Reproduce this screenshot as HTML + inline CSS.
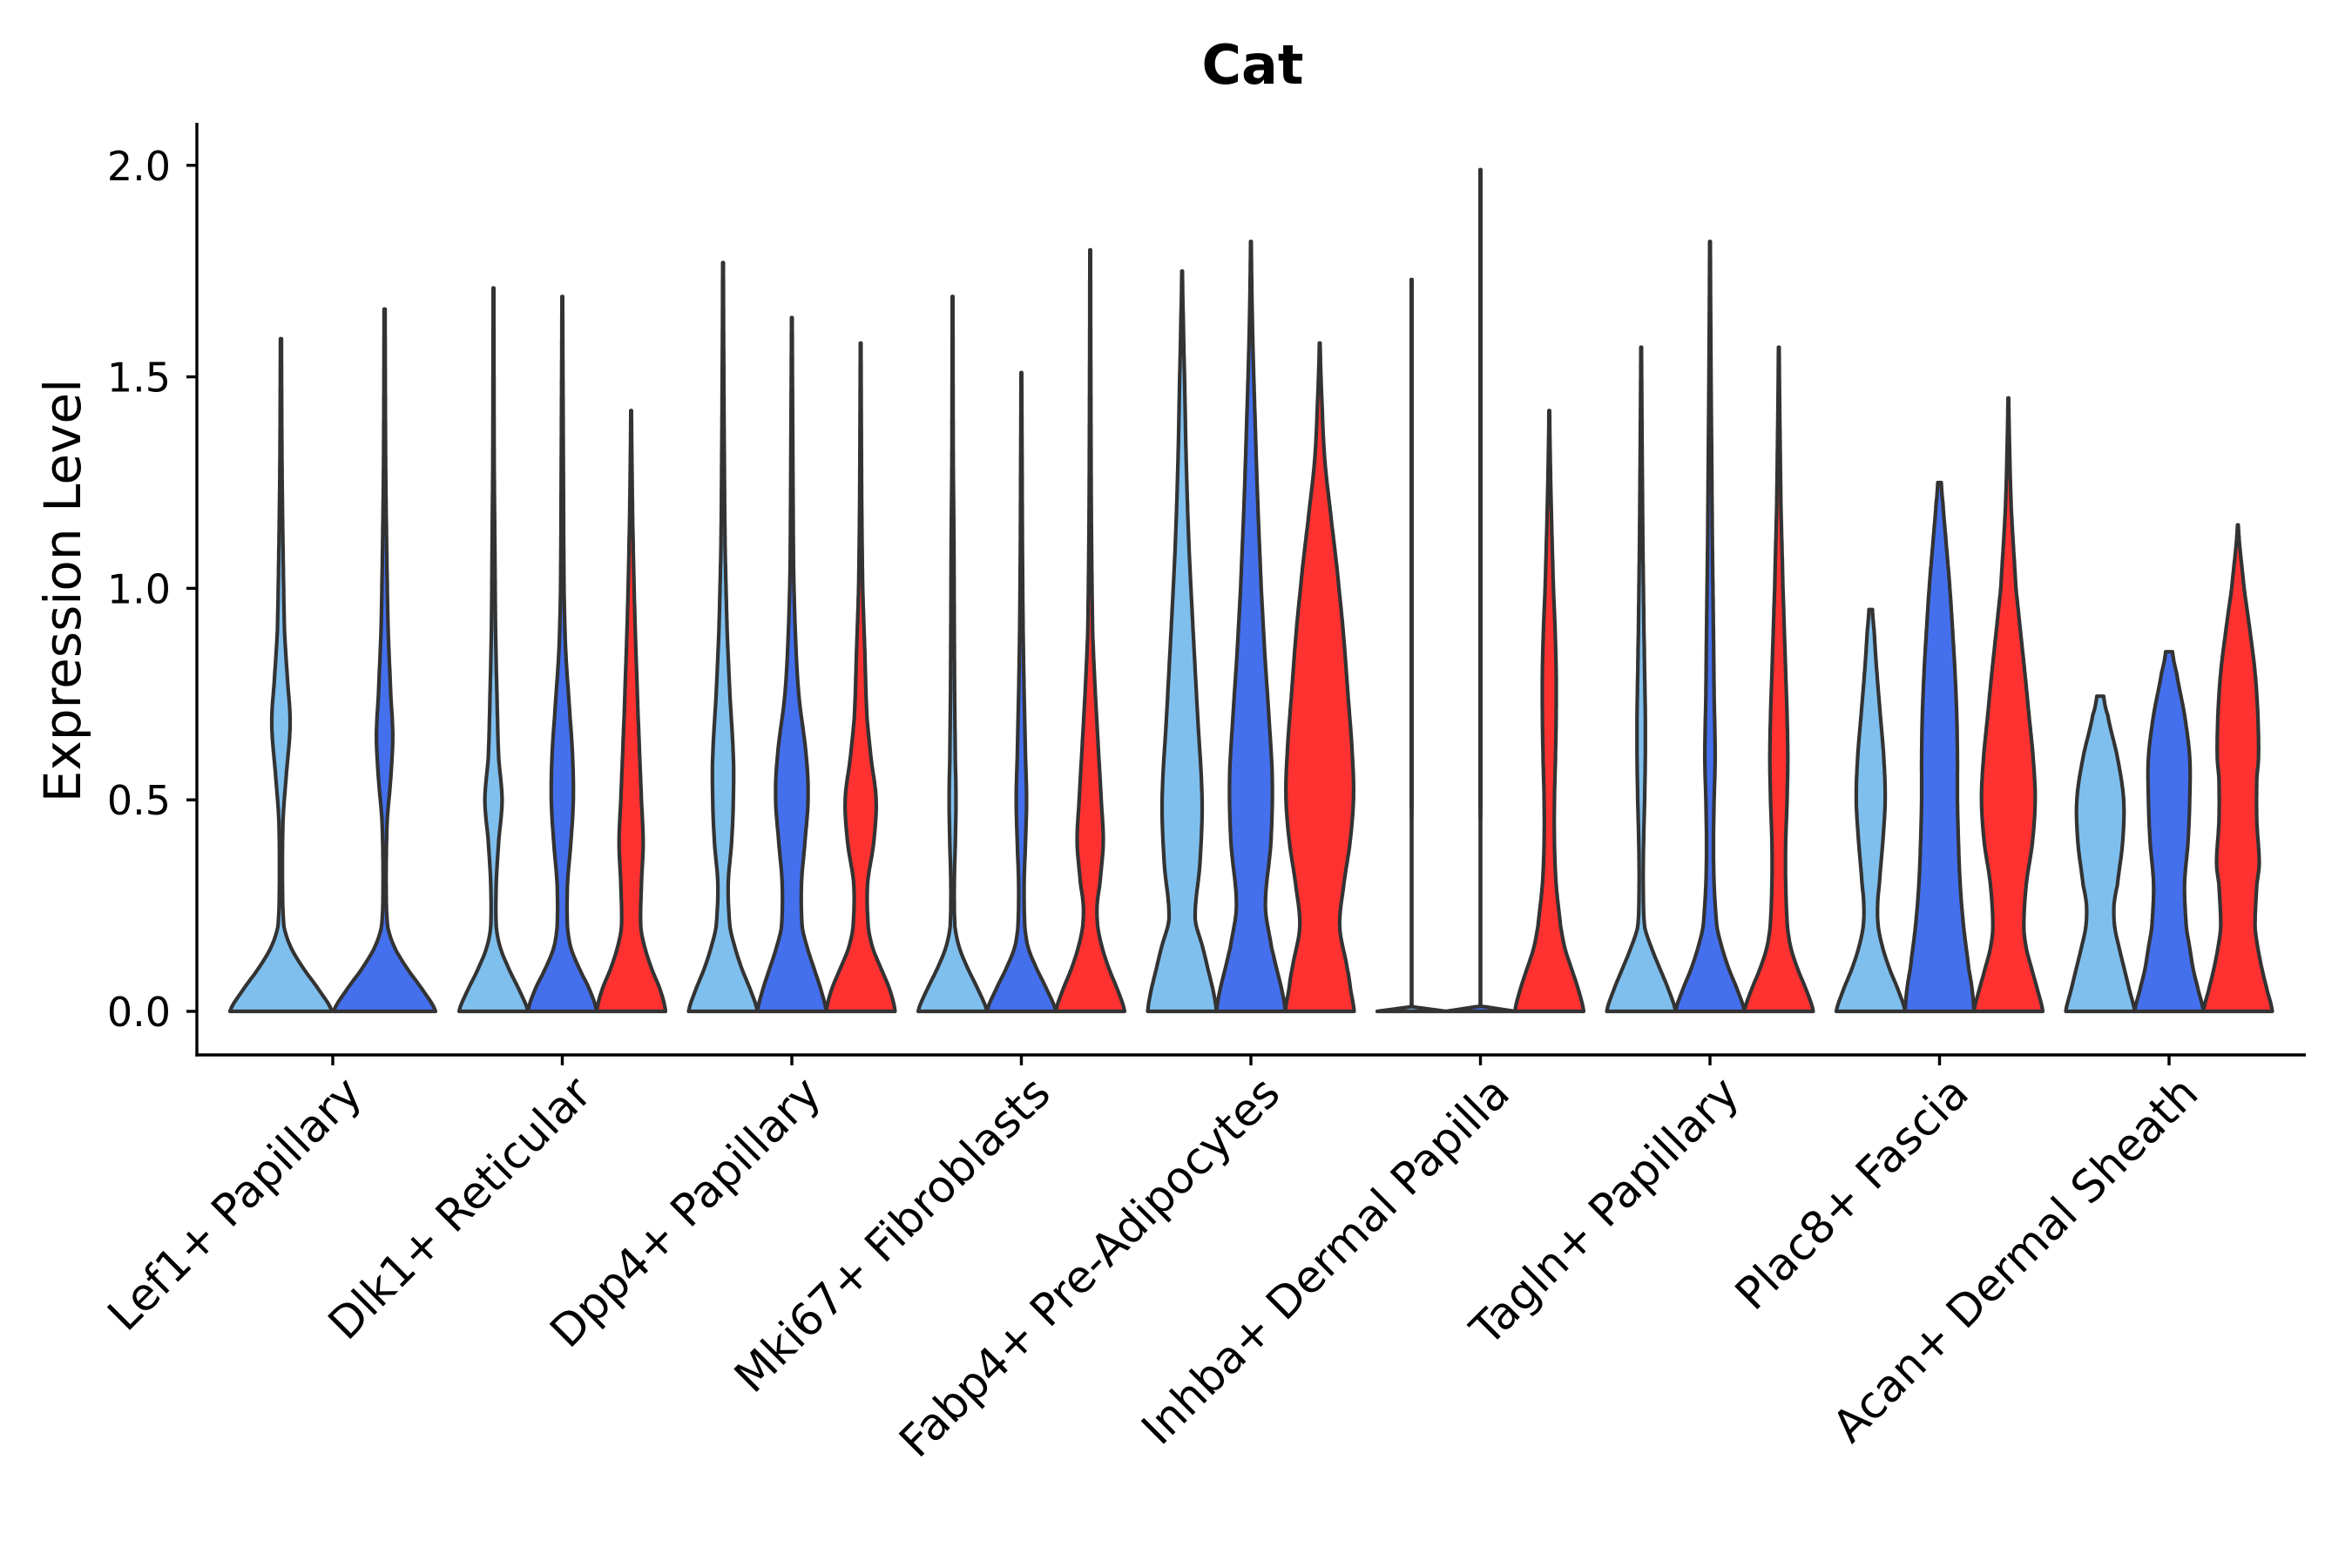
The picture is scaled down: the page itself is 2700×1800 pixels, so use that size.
<!DOCTYPE html>
<html><head><meta charset="utf-8"><style>
html,body{margin:0;padding:0;background:#fff;}
svg{display:block;font-family:"DejaVu Sans","Liberation Sans",sans-serif;}
</style></head><body>
<svg id="chart" width="2700" height="1800" viewBox="0 0 2700 1800" xmlns="http://www.w3.org/2000/svg">
<text x="1438" y="96" text-anchor="middle" font-size="62" font-weight="bold">Cat</text>
<text transform="translate(92,678) rotate(-90)" text-anchor="middle" font-size="58">Expression Level</text>
<g id="plot"></g>
</svg>
<script>
const categories = ["Lef1+ Papillary","Dlk1+ Reticular","Dpp4+ Papillary","Mki67+ Fibroblasts","Fabp4+ Pre-Adipocytes","Inhba+ Dermal Papilla","Tagln+ Papillary","Plac8+ Fascia","Acan+ Dermal Sheath"];
const yTicks = [0, 0.5, 1.0, 1.5, 2.0];
const yTickLabels = ["0.0","0.5","1.0","1.5","2.0"];
const seriesColors = ["#7FBFEE","#4470EE","#FF3131"];
// each violin: [category index, series index, number of series in group, knot y-values, relative half-widths]
const violins = [
 [0,0,2,[0,0.05,0.1,0.15,0.2,0.3,0.45,0.55,0.68,0.8,0.9,1.1,1.3,1.59],[1,0.75,0.45,0.2,0.06,0.03,0.04,0.1,0.18,0.12,0.07,0.04,0.02,0.01]],
 [0,1,2,[0,0.05,0.1,0.15,0.2,0.3,0.45,0.55,0.65,0.75,0.9,1.1,1.3,1.66],[1,0.75,0.45,0.2,0.06,0.03,0.05,0.12,0.16,0.12,0.07,0.04,0.02,0.01]],
 [1,0,3,[0,0.05,0.1,0.15,0.2,0.3,0.4,0.5,0.6,0.75,0.9,1.1,1.3,1.71],[1,0.75,0.45,0.2,0.08,0.08,0.15,0.25,0.15,0.1,0.06,0.04,0.02,0.01]],
 [1,1,3,[0,0.05,0.1,0.15,0.2,0.3,0.4,0.5,0.6,0.7,0.85,1.0,1.3,1.69],[1,0.8,0.5,0.25,0.15,0.15,0.25,0.32,0.3,0.22,0.1,0.05,0.03,0.01]],
 [1,2,3,[0,0.05,0.1,0.15,0.2,0.3,0.4,0.5,0.6,0.7,0.9,1.1,1.25,1.42],[1,0.85,0.6,0.4,0.28,0.3,0.35,0.3,0.25,0.2,0.12,0.06,0.03,0.01]],
 [2,0,3,[0,0.05,0.1,0.15,0.2,0.3,0.4,0.5,0.6,0.75,0.9,1.1,1.4,1.77],[1,0.8,0.55,0.35,0.2,0.15,0.25,0.3,0.3,0.2,0.12,0.06,0.03,0.01]],
 [2,1,3,[0,0.05,0.1,0.15,0.2,0.3,0.4,0.5,0.6,0.75,0.9,1.05,1.3,1.64],[1,0.85,0.65,0.45,0.3,0.28,0.38,0.47,0.42,0.2,0.1,0.05,0.03,0.01]],
 [2,2,3,[0,0.05,0.1,0.15,0.2,0.3,0.4,0.5,0.6,0.7,0.85,1.0,1.2,1.58],[1,0.85,0.6,0.35,0.22,0.2,0.38,0.45,0.3,0.18,0.12,0.06,0.03,0.01]],
 [3,0,3,[0,0.05,0.1,0.15,0.2,0.3,0.4,0.5,0.6,0.75,0.9,1.1,1.3,1.69],[1,0.75,0.45,0.2,0.07,0.05,0.08,0.1,0.08,0.06,0.05,0.04,0.02,0.01]],
 [3,1,3,[0,0.05,0.1,0.15,0.2,0.3,0.4,0.5,0.6,0.75,0.9,1.1,1.3,1.51],[1,0.75,0.45,0.2,0.1,0.08,0.12,0.15,0.12,0.08,0.05,0.03,0.02,0.01]],
 [3,2,3,[0,0.05,0.1,0.15,0.2,0.25,0.3,0.4,0.5,0.6,0.75,0.9,1.2,1.8],[1,0.8,0.55,0.35,0.22,0.2,0.28,0.38,0.32,0.25,0.15,0.07,0.03,0.01]],
 [4,0,3,[0,0.05,0.1,0.15,0.22,0.35,0.5,0.7,0.9,1.1,1.3,1.5,1.65,1.75],[1,0.9,0.75,0.6,0.38,0.52,0.58,0.45,0.32,0.2,0.12,0.07,0.03,0.01]],
 [4,1,3,[0,0.05,0.1,0.15,0.25,0.4,0.55,0.7,0.85,1.0,1.2,1.4,1.6,1.82],[1,0.9,0.75,0.6,0.42,0.58,0.62,0.52,0.4,0.3,0.2,0.12,0.05,0.01]],
 [4,2,3,[0,0.05,0.1,0.2,0.3,0.4,0.5,0.6,0.75,0.9,1.05,1.15,1.3,1.45,1.58],[1,0.9,0.8,0.58,0.7,0.88,0.98,0.95,0.82,0.68,0.5,0.35,0.15,0.06,0.01]],
 [5,0,3,[0,0.01,0.5,1.0,1.73],[1,0.01,0.01,0.01,0.01]],
 [5,1,3,[0,0.01,0.5,1.0,1.99],[1,0.01,0.01,0.01,0.01]],
 [5,2,3,[0,0.05,0.1,0.15,0.2,0.3,0.4,0.5,0.6,0.7,0.8,0.9,1.0,1.15,1.3,1.42],[1,0.85,0.65,0.45,0.33,0.2,0.15,0.15,0.18,0.2,0.2,0.17,0.12,0.07,0.03,0.01]],
 [6,0,3,[0,0.05,0.1,0.15,0.2,0.3,0.4,0.5,0.6,0.7,0.8,0.9,1.1,1.3,1.57],[1,0.8,0.55,0.3,0.1,0.06,0.07,0.1,0.12,0.12,0.1,0.08,0.05,0.03,0.01]],
 [6,1,3,[0,0.05,0.1,0.15,0.2,0.3,0.4,0.5,0.6,0.75,0.9,1.1,1.3,1.5,1.82],[1,0.8,0.55,0.35,0.2,0.12,0.1,0.12,0.15,0.12,0.1,0.07,0.05,0.03,0.01]],
 [6,2,3,[0,0.05,0.1,0.15,0.2,0.3,0.4,0.5,0.6,0.7,0.8,0.9,1.0,1.2,1.57],[1,0.8,0.55,0.35,0.25,0.2,0.2,0.24,0.26,0.24,0.2,0.16,0.12,0.06,0.01]],
 [7,0,3,[0,0.05,0.1,0.15,0.2,0.25,0.3,0.4,0.5,0.6,0.7,0.8,0.9,0.95],[1,0.8,0.55,0.35,0.22,0.2,0.25,0.35,0.42,0.38,0.28,0.18,0.1,0.05]],
 [7,1,3,[0,0.05,0.1,0.2,0.3,0.4,0.5,0.6,0.7,0.8,0.9,1.0,1.1,1.2,1.25],[1,0.95,0.85,0.7,0.6,0.55,0.52,0.52,0.5,0.45,0.38,0.3,0.2,0.1,0.05]],
 [7,2,3,[0,0.05,0.1,0.15,0.2,0.3,0.4,0.5,0.6,0.7,0.8,0.9,1.0,1.2,1.45],[1,0.85,0.68,0.52,0.45,0.52,0.7,0.78,0.72,0.6,0.48,0.35,0.22,0.08,0.01]],
 [8,0,3,[0,0.05,0.1,0.15,0.2,0.25,0.3,0.4,0.5,0.6,0.7,0.745],[1,0.85,0.7,0.55,0.42,0.4,0.5,0.65,0.68,0.5,0.22,0.1]],
 [8,1,3,[0,0.05,0.1,0.15,0.2,0.3,0.4,0.5,0.6,0.7,0.8,0.85],[1,0.85,0.7,0.6,0.5,0.45,0.55,0.6,0.6,0.45,0.22,0.1]],
 [8,2,3,[0,0.05,0.1,0.15,0.2,0.3,0.35,0.45,0.55,0.6,0.7,0.8,0.9,1.0,1.15],[1,0.85,0.7,0.58,0.5,0.55,0.62,0.55,0.55,0.6,0.58,0.5,0.35,0.18,0.01]]
];

const NS = "http://www.w3.org/2000/svg";
const X0 = 226, X1 = 2647, YBOT = 1211, YTOP = 141;
const Y0PX = 1161, PXPERUNIT = 485.6;
const GROUP0 = 382, GROUPSTEP = 263.5;
function yScale(v){ return Y0PX - v * PXPERUNIT; }
function xScale(i){ return GROUP0 + i * GROUPSTEP; }
const plot = document.getElementById('plot');
function mk(tag, attrs){ const e = document.createElementNS(NS, tag); for (const k in attrs) e.setAttribute(k, attrs[k]); plot.appendChild(e); return e; }

function interp(ys, ws, y){
  let i = 0;
  while (i < ys.length - 2 && y > ys[i+1]) i++;
  const t = (y - ys[i]) / (ys[i+1] - ys[i]);
  const p0 = ws[Math.max(i-1,0)], p1 = ws[i], p2 = ws[i+1], p3 = ws[Math.min(i+2, ws.length-1)];
  const t2 = t*t, t3 = t2*t;
  const v = 0.5*((2*p1) + (-p0+p2)*t + (2*p0-5*p1+4*p2-p3)*t2 + (-p0+3*p1-3*p2+p3)*t3);
  return Math.max(v, Math.min(p1,p2)*0.6, 0.006);
}
violins.forEach(function(v){
  const cat = v[0], s = v[1], n = v[2], ys = v[3], ws = v[4];
  const off = n === 2 ? 59.5 : 79;
  const half = n === 2 ? 58.5 : 39.5;
  const cx = xScale(cat) + (n === 2 ? (s === 0 ? -off : off) : (s - 1) * off);
  const ymax = ys[ys.length-1];
  const N = 160;
  const right = [], left = [];
  for (let k = 0; k <= N; k++){
    const y = ymax * k / N;
    const w = interp(ys, ws, y) * half;
    right.push((cx + w).toFixed(1) + "," + yScale(y).toFixed(1));
    left.push((cx - w).toFixed(1) + "," + yScale(y).toFixed(1));
  }
  left.reverse();
  const p = mk('path', {d: "M" + right.join(" L") + " L" + left.join(" L") + " Z", fill: seriesColors[s], stroke: "#333333", "stroke-width": 4.2, "stroke-linejoin": "round"});
  
  
});

const ya = mk('line', {x1: X0, y1: YTOP, x2: X0, y2: YBOT + 1.7, stroke: "#000", "stroke-width": 3.4});


const xa = mk('line', {x1: X0 - 1.7, y1: YBOT, x2: X1, y2: YBOT, stroke: "#000", "stroke-width": 3.4});



yTicks.forEach(function(t, i){
  const y = yScale(t);
  const tk = mk('line', {x1: X0 - 12, y1: y, x2: X0, y2: y, stroke: "#000", "stroke-width": 3.4});
  
  
  const tx = mk('text', {x: 196, y: y + 17, "text-anchor": "end", "font-size": 46, fill: "#000"});
  tx.textContent = yTickLabels[i];
  
  
});

categories.forEach(function(c, i){
  const x = xScale(i);
  const tk = mk('line', {x1: x, y1: YBOT, x2: x, y2: YBOT + 12, stroke: "#000", "stroke-width": 3.4});
  
  
  const tx = mk('text', {transform: "translate(" + (x + 10) + "," + 1232 + ") rotate(-45)", "text-anchor": "end", "font-size": 51, dy: "0.72em", fill: "#000"});
  tx.textContent = c;
  
  
});
</script>
</body></html>
